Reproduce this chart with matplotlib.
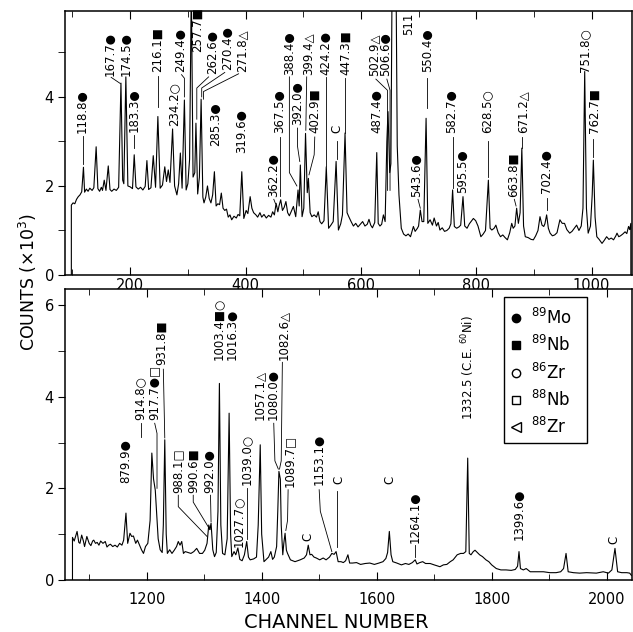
import matplotlib
matplotlib.use('Agg')
import matplotlib.pyplot as plt
from matplotlib.ticker import MultipleLocator, FixedLocator
from matplotlib.patches import Rectangle

plt.rcParams['font.family'] = 'DejaVu Sans'
plt.rcParams['mathtext.fontset'] = 'dejavusans'

# Espectro superior: canal vs cuentas (x10^3)
top_ch = [98, 98, 101, 104, 107, 110, 113, 116, 119, 121, 124, 127, 130, 134, 137, 141, 144, 147, 150, 152,
          155, 158, 162, 165, 168, 172, 176, 180, 184, 187, 189, 192.5, 196, 200, 204, 207, 210, 214, 218, 222,
          226, 229, 232, 236, 240, 244, 248, 252, 256, 260, 263, 266, 269, 273.5, 277, 281, 284, 287, 290, 294,
          297, 300, 303, 306, 309, 312, 314, 317, 320, 323, 326, 328, 331, 334, 337, 340, 343, 346, 349, 352,
          355, 358, 361, 364, 367, 370, 373, 376, 380, 384, 387, 390, 393.5, 397, 401, 404, 408, 411, 414, 418,
          421, 425, 428, 432, 436, 440, 444, 447, 450, 453, 456, 458, 461, 464, 467, 470, 473, 476, 479, 483,
          487, 491, 493, 495, 498, 501, 504, 507, 509, 512, 515, 519, 523, 526, 529, 532, 536, 540, 544, 548,
          552, 557, 561, 565, 568, 572.5, 576, 579, 583, 587, 591, 595, 599, 603, 607, 611, 614, 617, 620, 624,
          627.5, 630, 633, 636, 639, 642, 645, 647, 650, 652, 654, 661, 663, 666, 670, 674, 678, 682, 686, 691,
          694, 698, 700, 703, 706, 709, 713, 716, 720, 724, 727, 731, 734, 737, 741, 745, 749, 753, 756, 759,
          762, 766, 770, 773, 777, 780, 784, 788, 792, 795, 799, 803, 808, 812, 816, 821, 824, 827, 831, 834,
          838, 842, 846, 850, 854, 858, 861.5, 864, 867, 870, 873, 876, 879, 882, 885, 890, 895, 899, 903, 907,
          910.5, 914, 917, 919, 922, 925, 928, 932, 936, 940, 945, 949, 953, 957, 962, 966, 970, 974, 978, 982,
          985, 988, 991, 994, 998, 1001, 1003, 1006, 1009, 1013, 1018, 1022, 1026, 1030, 1034, 1038, 1042, 1044, 1047, 1050,
          1054, 1058, 1061, 1064, 1066, 1068, 1068]
top_counts = [0.0, 1.57, 1.62, 1.60, 1.70, 1.76, 1.80, 1.87, 2.42, 1.86, 1.93, 1.88, 1.95, 1.90, 1.96, 2.88, 1.94, 1.88, 1.97, 1.90,
              2.13, 1.90, 2.45, 1.92, 1.88, 1.93, 1.90, 1.97, 4.31, 2.13, 2.05, 4.45, 2.00, 1.98, 1.94, 2.70, 1.98, 1.93, 1.97, 1.91,
              1.99, 2.57, 1.92, 1.96, 2.68, 1.97, 3.56, 1.95, 2.02, 2.43, 2.10, 2.36, 2.08, 3.28, 2.00, 1.80, 2.05, 2.74, 1.95, 3.93,
              1.91, 2.05, 2.60, 6.50, 2.20, 2.30, 3.41, 1.82, 2.20, 3.95, 1.75, 1.62, 1.75, 2.00, 1.72, 1.62, 1.80, 2.32, 1.55, 1.60,
              1.58, 1.84, 1.50, 1.45, 1.48, 1.30, 1.35, 1.24, 1.32, 1.28, 1.36, 1.33, 2.32, 1.27, 1.45, 1.38, 1.76, 1.50, 1.40, 1.35,
              1.30, 1.40, 1.30, 1.36, 1.28, 1.34, 1.30, 1.42, 1.35, 1.61, 1.42, 1.55, 1.69, 1.45, 1.52, 1.65, 1.40, 1.33, 1.42, 1.54,
              1.31, 1.91, 1.55, 2.47, 1.31, 1.50, 3.18, 1.85, 2.17, 1.40, 1.31, 1.35, 1.30, 1.42, 1.20, 1.15, 1.22, 2.43, 1.05, 1.12,
              1.20, 2.55, 1.01, 1.15, 1.35, 3.19, 1.40, 1.31, 1.20, 1.10, 1.16, 1.08, 1.14, 1.20, 1.10, 1.14, 1.25, 1.12, 1.06, 1.18,
              2.75, 1.16, 1.10, 1.14, 1.35, 1.20, 3.00, 3.67, 2.30, 2.50, 6.50, 6.50, 2.90, 1.80, 1.05, 0.92, 0.88, 0.92, 0.86, 1.09,
              0.98, 1.05, 1.10, 1.46, 1.20, 1.20, 3.52, 1.16, 1.24, 1.12, 1.28, 1.10, 1.18, 1.01, 1.06, 0.98, 1.00, 1.05, 1.15, 1.91,
              1.09, 1.05, 1.08, 1.12, 1.76, 1.10, 1.05, 1.15, 1.22, 1.27, 1.22, 1.10, 0.86, 0.92, 1.00, 2.13, 1.05, 1.01, 1.05, 1.12,
              0.95, 0.86, 0.90, 0.84, 0.79, 0.95, 1.16, 1.05, 1.10, 1.50, 1.16, 1.40, 2.85, 1.10, 0.86, 0.84, 0.80, 0.79, 0.88, 1.00,
              1.31, 1.12, 1.09, 1.15, 1.35, 1.05, 0.94, 0.88, 0.90, 0.95, 1.24, 1.16, 1.16, 1.02, 0.94, 0.98, 1.05, 1.12, 1.00, 1.10,
              1.50, 4.57, 1.50, 0.94, 1.10, 1.80, 2.58, 1.30, 0.86, 0.80, 0.71, 0.78, 0.86, 0.80, 0.83, 0.79, 0.88, 0.94, 0.86, 0.88,
              0.92, 0.97, 0.93, 1.09, 1.02, 1.16, 0.0]

# Espectro inferior
bot_ch = [1071, 1071, 1074, 1077, 1079, 1082, 1084, 1087, 1090, 1092, 1096, 1100, 1103, 1106, 1108, 1111, 1114, 1117, 1120, 1124,
          1128, 1131, 1134, 1137, 1141, 1145, 1149, 1153, 1157, 1160, 1164, 1167, 1171, 1174, 1177, 1181, 1184, 1188, 1191, 1194.5,
          1198, 1202, 1206, 1209, 1212, 1215, 1218, 1220, 1223.5, 1227, 1229, 1231.5, 1234, 1236, 1240, 1244, 1248, 1252, 1255, 1258,
          1261, 1264, 1267, 1272, 1277, 1282, 1287, 1292, 1297, 1301, 1305, 1308, 1310, 1312, 1315, 1318, 1321, 1324, 1326.5, 1329,
          1332, 1336, 1340, 1343.4, 1346, 1348, 1352, 1355, 1358.6, 1362, 1366, 1370, 1374, 1377, 1380, 1386, 1391, 1394, 1397.5, 1400,
          1404, 1408, 1412, 1416, 1419, 1422, 1426, 1428, 1430, 1432.5, 1434, 1436.7, 1438.5, 1440.7, 1443, 1445, 1450, 1458, 1467, 1474,
          1478, 1481, 1484, 1487, 1491, 1495, 1501, 1507, 1512, 1518, 1522, 1526, 1529.4, 1533, 1538, 1542, 1546, 1550, 1553, 1558,
          1565, 1572, 1580, 1588, 1596, 1604, 1611, 1616, 1619, 1622, 1625, 1628, 1635, 1643, 1650, 1656, 1662, 1667, 1670, 1675,
          1680, 1685, 1693, 1700, 1710, 1716, 1722, 1728, 1733, 1740, 1746, 1751, 1755, 1758.3, 1761, 1764, 1768, 1771, 1775, 1779,
          1784, 1790, 1795, 1800, 1808, 1816, 1825, 1834, 1841, 1845, 1847.5, 1850, 1855, 1860, 1867, 1878, 1890, 1901, 1912, 1920,
          1925, 1929.3, 1933, 1942, 1953, 1965, 1982, 1994, 2003, 2009, 2014.4, 2019, 2026, 2035, 2040, 2043]
bot_counts = [0.0, 0.93, 0.85, 0.98, 1.06, 0.82, 0.80, 0.98, 0.85, 0.73, 0.95, 0.80, 0.75, 0.85, 0.87, 0.80, 0.82, 0.76, 0.85, 0.80,
              0.84, 0.72, 0.76, 0.78, 0.73, 0.76, 0.72, 0.80, 0.76, 0.87, 1.46, 0.80, 1.02, 0.95, 0.96, 0.80, 0.87, 0.75, 0.66, 0.58,
              0.73, 0.80, 1.30, 2.77, 2.20, 1.96, 1.30, 0.90, 0.66, 0.60, 1.20, 3.06, 1.00, 0.58, 0.66, 0.58, 0.65, 0.73, 0.84, 0.76,
              0.84, 0.58, 0.62, 0.60, 0.58, 0.62, 0.69, 0.58, 0.58, 0.65, 0.80, 1.20, 1.10, 1.24, 0.66, 0.51, 0.60, 1.50, 4.29, 1.20,
              0.58, 0.55, 0.90, 3.64, 1.00, 0.51, 0.62, 0.55, 0.70, 0.45, 0.42, 0.55, 0.84, 0.50, 0.44, 0.46, 0.50, 1.20, 2.95, 1.00,
              0.40, 0.45, 0.50, 0.62, 0.45, 0.50, 0.73, 1.50, 2.37, 2.20, 1.20, 0.55, 0.80, 1.02, 0.65, 0.58, 0.44, 0.40, 0.44, 0.48,
              0.55, 0.76, 0.55, 0.56, 0.50, 0.48, 0.44, 0.48, 0.44, 0.50, 0.58, 0.56, 0.62, 0.40, 0.40, 0.38, 0.42, 0.55, 0.37, 0.37,
              0.38, 0.34, 0.36, 0.37, 0.34, 0.37, 0.40, 0.47, 0.60, 1.06, 0.55, 0.40, 0.37, 0.33, 0.36, 0.34, 0.38, 0.44, 0.35, 0.38,
              0.40, 0.36, 0.36, 0.33, 0.29, 0.33, 0.34, 0.40, 0.44, 0.55, 0.58, 0.58, 0.62, 2.66, 0.58, 0.55, 0.62, 0.65, 0.60, 0.55,
              0.51, 0.44, 0.40, 0.33, 0.25, 0.22, 0.22, 0.21, 0.23, 0.30, 0.62, 0.25, 0.22, 0.25, 0.18, 0.18, 0.18, 0.16, 0.16, 0.18,
              0.25, 0.58, 0.18, 0.16, 0.15, 0.16, 0.15, 0.18, 0.15, 0.22, 0.69, 0.18, 0.16, 0.16, 0.15, 0.10]

# Energias de los picos (keV) y simbolo del nucleo
top_energy = ['118.8', '167.7', '174.5', '183.3', '216.1', '234.2', '249.4', '257.7', '262.6', '270.4', '271.8',
              '285.3', '319.6', '362.2', '367.5', '388.4', '392.0', '399.4', '402.9', '424.2', 'C', '447.3',
              '487.4', '502.9', '506.6', '511', '543.6', '550.4', '582.7', '595.5', '628.5', '663.8', '671.2',
              '702.4', '751.8', '762.7']
top_mark = ['●', '●', '●', '●', '■', '○', '●', '■', '●', '●', '△',
            '●', '●', '●', '●', '●', '●', '△', '■', '●', '', '■',
            '●', '△', '●', '', '●', '●', '●', '●', '○', '■', '△',
            '●', '○', '■']
bot_energy = ['879.9', '914.8', '917.7', '931.8', '988.1', '990.6', '992.0', '1003.4', '1016.3', '1027.7',
              '1039.0', '1057.1', '1080.0', '1082.6', '1089.7', '1153.1', 'C', 'C', 'C', '1264.1',
              '1332.5 (C.E. $^{60}$Ni)', '1399.6', 'C']
bot_mark = ['●', '○', '●□', '■', '□', '■', '●', '■○', '●', '○',
            '○', '△', '●', '△', '□', '●', '', '', '', '●',
            '', '●', '']

legend_sym = ['o', 's', 'o', 's', '<']
legend_fill = ['k', 'k', 'w', 'w', 'w']
legend_txt = ['$^{89}$Mo', '$^{89}$Nb', '$^{86}$Zr', '$^{88}$Nb', '$^{88}$Zr']

# posicion de cada etiqueta (canal, altura) y lineas guia
top_pos = [(117, 3.2), (165.5, 4.47), (192.5, 4.47), (207, 3.22), (248, 4.57), (275, 3.35), (288, 4.57),
           (316, 5.0), (343, 4.52), (369, 4.6), (394, 4.57), (347, 2.9), (393.5, 2.73), (448, 1.76),
           (459, 3.18), (476, 4.49), (490, 3.37), (508, 4.49), (520, 3.18), (539, 4.49), (559, 3.19),
           (574, 4.49), (627.5, 3.18), (622, 4.46), (643, 4.46), (682, 5.4), (696, 1.76), (715, 4.57),
           (757.5, 3.18), (776.5, 1.84), (819, 3.18), (864, 1.76), (880, 3.18), (921, 1.84), (988.5, 4.57),
           (1004, 3.18)]
top_lead = [[(118, 3.12), (118, 2.5)], [(167, 4.44), (183, 4.3)], [], [(207, 3.15), (207, 2.85)],
            [(248, 4.46), (248, 3.78)], [], [(289, 4.5), (294, 4.42), (294, 4.0)], [],
            [(336, 4.45), (315.5, 4.2), (315.5, 3.5)], [(364, 4.55), (324, 4.2), (324, 4.0)],
            [(388, 4.52), (327, 4.12), (327, 3.95)], [], [], [(449, 1.7), (452, 1.6)],
            [(460, 3.1), (460, 1.78)], [(476, 4.45), (476, 2.3), (489, 2.0)], [(490, 3.3), (490, 2.9), (494, 2.55)],
            [(506, 4.45), (504.5, 3.25)], [(520, 3.1), (519, 2.7), (510, 2.25)], [(539, 4.45), (539, 2.45)],
            [(558, 3.0), (558, 2.6)], [(572.5, 4.42), (572.5, 3.2)], [], [(626, 4.4), (646, 4.15), (646, 1.9)],
            [(645, 4.4), (650.5, 4.15), (650.5, 1.9)], [], [(699, 1.7), (703, 1.5)], [(715, 4.42), (715, 3.74)],
            [(759, 3.1), (759, 1.95)], [], [(821, 3.0), (821, 2.2)], [(866, 1.7), (869, 1.55)],
            [(879, 3.1), (879, 2.85)], [(922, 1.72), (922, 1.46)], [], [(1003, 3.05), (1003, 2.65)]]

bot_pos = [(1163, 2.11), (1189, 3.49), (1212, 3.49), (1226.5, 4.69), (1255, 1.89), (1281, 1.89), (1310, 1.89),
           (1325, 4.8), (1348, 4.8), (1359.5, 0.73), (1374, 2.07), (1395.5, 3.49), (1420.5, 3.49), (1438, 4.8),
           (1448, 2.04), (1500.5, 2.07), (1535, 2.1), (1481, 0.85), (1623, 2.1), (1667, 0.8), (1759.5, 3.49),
           (1847.5, 0.87), (2013, 0.78)]
bot_lead = [[], [(1190, 3.42), (1190, 3.12)], [(1214, 3.42), (1218, 3.2), (1218, 2.0)], [(1229, 4.6), (1231.5, 3.1)],
            [(1255, 1.85), (1255, 1.6), (1305, 0.95)], [(1281, 1.85), (1281, 1.7), (1310, 1.1)],
            [(1311, 1.85), (1312, 1.27)], [], [], [], [(1374, 2.0), (1374, 0.9)], [],
            [(1421, 3.42), (1423, 2.6), (1429, 2.42)], [(1436, 4.75), (1434, 2.6), (1431, 2.42)],
            [(1446, 1.97), (1445, 1.3), (1442, 1.08)], [(1500, 1.97), (1502, 1.5), (1522, 0.62)],
            [(1531, 1.95), (1531, 0.72)], [], [], [(1667, 0.76), (1667, 0.5)], [], [], []]

fig = plt.figure(figsize=(6.33, 6.32), dpi=100)
ax1 = fig.add_axes([65 / 633, 1 - 275 / 632, 567 / 633, 264 / 632])
ax2 = fig.add_axes([65 / 633, 1 - 580 / 632, 567 / 633, 291 / 632])

ax1.plot(top_ch, top_counts, color='k', lw=0.8)
ax2.plot(bot_ch, bot_counts, color='k', lw=0.8)

ax1.set_xlim(87, 1070)
ax1.set_ylim(0, 5.93)
ax2.set_xlim(1058, 2044)
ax2.set_ylim(0, 6.35)

ax1.xaxis.set_major_locator(FixedLocator([200, 400, 600, 800, 1000]))
ax2.xaxis.set_major_locator(FixedLocator([1200, 1400, 1600, 1800, 2000]))
for ax in (ax1, ax2):
    ax.xaxis.set_minor_locator(MultipleLocator(100))
    ax.yaxis.set_major_locator(MultipleLocator(2))
    ax.yaxis.set_minor_locator(MultipleLocator(1))
    ax.tick_params(axis='x', which='both', direction='in', top=True, labelsize=10.5)
    ax.tick_params(axis='x', which='major', length=6)
    ax.tick_params(axis='x', which='minor', length=4)
    ax.tick_params(axis='y', which='both', direction='out', length=5, labelsize=10.5, pad=3)
    for sp in ax.spines.values():
        sp.set_linewidth(1.1)
ax1.tick_params(axis='x', pad=2)
ax2.tick_params(axis='x', pad=9)

for (s, m, (x, y), ld) in zip(top_energy, top_mark, top_pos, top_lead):
    ax1.text(x, y, s + m, rotation=90, ha='center', va='bottom', fontsize=8.5)
    if ld:
        ax1.plot([p[0] for p in ld], [p[1] for p in ld], color='k', lw=0.6)

for (s, m, (x, y), ld) in zip(bot_energy, bot_mark, bot_pos, bot_lead):
    ax2.text(x, y, s + m, rotation=90, ha='center', va='bottom', fontsize=8.5)
    if ld:
        ax2.plot([p[0] for p in ld], [p[1] for p in ld], color='k', lw=0.6)

# leyenda dibujada a mano
ax2.add_patch(Rectangle((0.774, 0.47), 0.147, 0.504, transform=ax2.transAxes,
                        fill=False, lw=1.0, color='k'))
ly = [0.899, 0.808, 0.711, 0.619, 0.527]
for sym, fc, txt, yy in zip(legend_sym, legend_fill, legend_txt, ly):
    ax2.plot([0.795], [yy], marker=sym, ms=6 if sym != '<' else 7, mfc=fc, mec='k', mew=1.0,
             transform=ax2.transAxes, clip_on=False)
    ax2.text(0.822, yy, txt, transform=ax2.transAxes, va='center', ha='left', fontsize=12)

fig.text(28 / 633, 1 - 282 / 632, 'COUNTS (×10$^{3}$)', rotation=90, ha='center', va='center', fontsize=12.5)
fig.text(336 / 633, 1 - 622 / 632, 'CHANNEL NUMBER', ha='center', va='center', fontsize=14)

plt.savefig('out.png', dpi=100)
